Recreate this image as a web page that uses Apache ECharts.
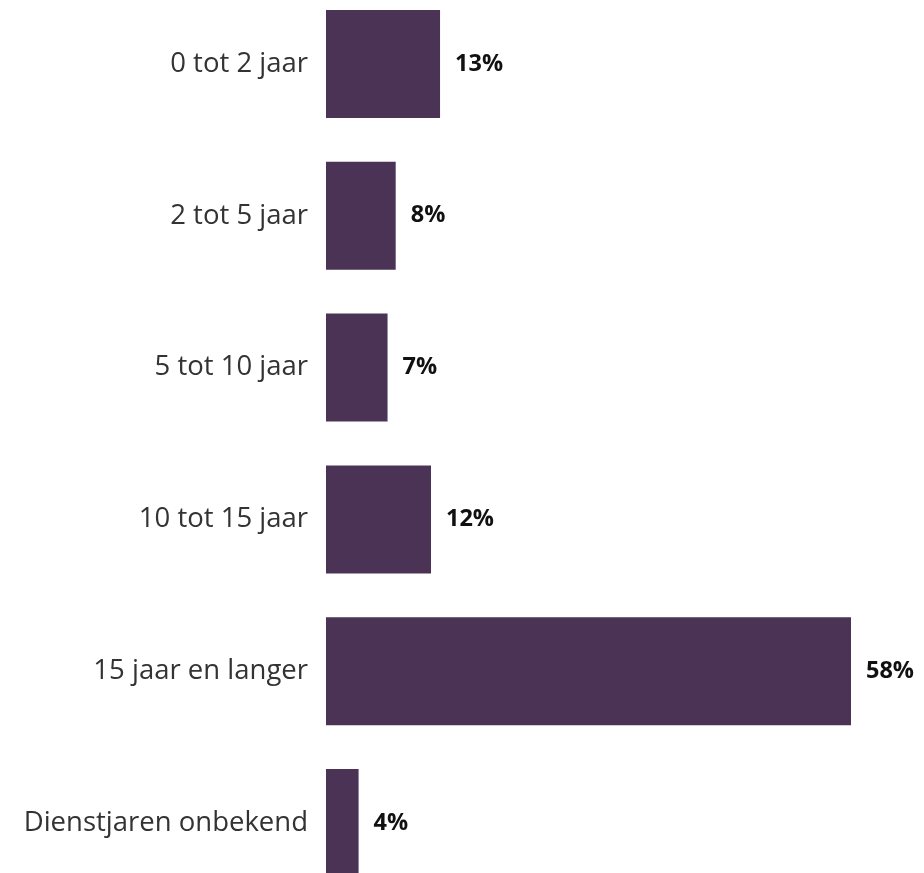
<!DOCTYPE html>
<html><head><meta charset="utf-8">
<script src="https://cdn.jsdelivr.net/npm/echarts@6/dist/echarts.min.js"></script>
<style>html,body{margin:0;padding:0;background:#fff;overflow:hidden}#c{position:absolute;left:0;top:-12px;width:924px;height:911px}</style>
</head><body><div id="c"></div>
<script>
const categories = ["0 tot 2 jaar","2 tot 5 jaar","5 tot 10 jaar","10 tot 15 jaar","15 jaar en langer","Dienstjaren onbekend"];
const values = [12.6, 7.7, 6.8, 11.6, 58, 3.6];
const valueLabels = ["13%","8%","7%","12%","58%","4%"];

const chart = echarts.init(document.getElementById('c'), null, {renderer:'canvas'});
chart.setOption({
  animation:false,
  grid:{left:326, top:0, width:525, height:911, containLabel:false},
  xAxis:{type:'value', min:0, max:'dataMax', show:false},
  yAxis:{type:'category', inverse:true, data:categories,
    axisLine:{show:false}, axisTick:{show:false}, splitLine:{show:false},
    axisLabel:{margin:18, fontSize:27.5, color:'#333', fontFamily:'Open Sans'}},
  series:[{type:'bar', data:values, barWidth:108,
    itemStyle:{color:'#4b3355'},
    label:{show:true, position:'right', distance:15, fontSize:23.5, fontWeight:'bold', color:'#111', fontFamily:'Open Sans',
      formatter:p=>valueLabels[p.dataIndex]}}]
});
</script></body></html>
